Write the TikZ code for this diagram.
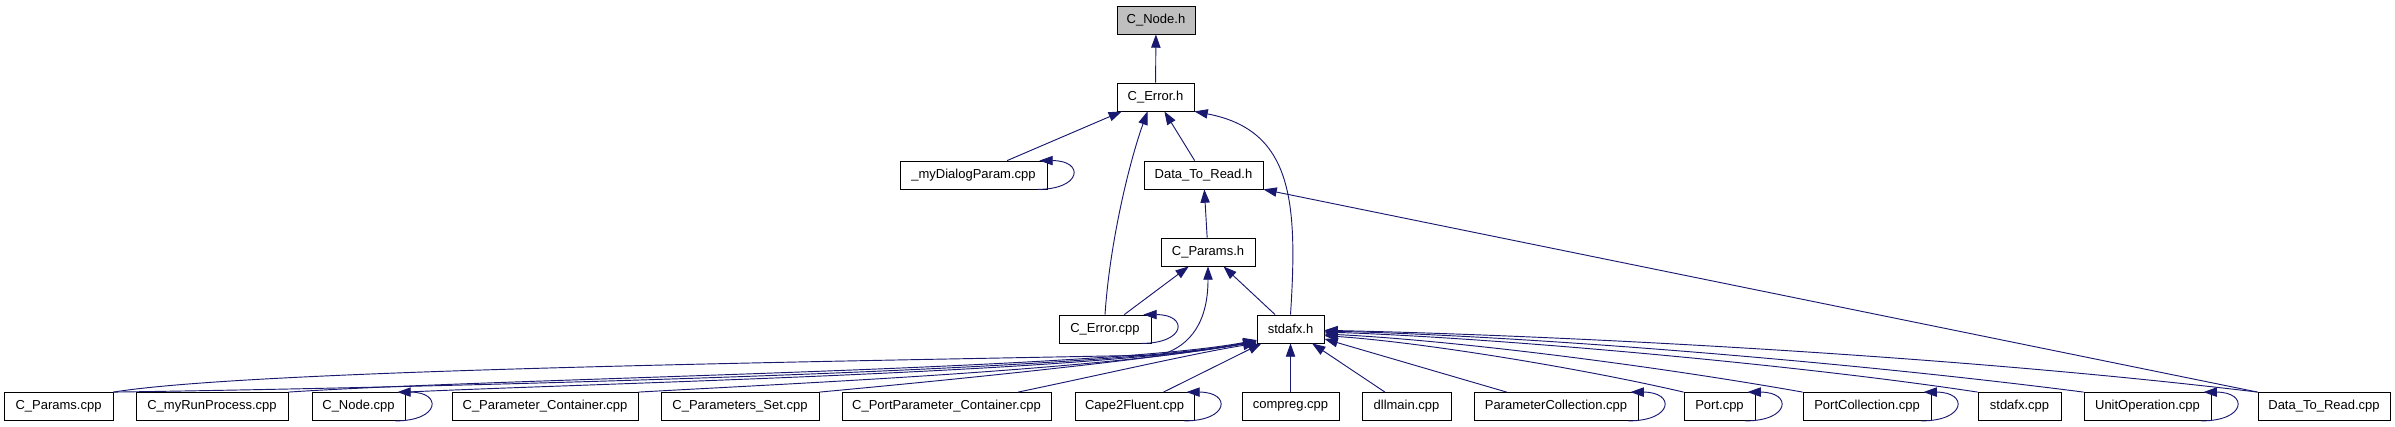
\documentclass[tikz,border=0pt]{standalone}
\usepackage{fontspec}
\setmainfont{Liberation Sans}
\usetikzlibrary{arrows.meta}
\definecolor{edgeblue}{HTML}{191970}
\definecolor{boxgray}{HTML}{BFBFBF}

\begin{document}
\begin{tikzpicture}[x=0.75pt, y=-0.75pt, font=\fontsize{9.75}{11}\selectfont,
    >={Triangle[length=10pt, width=7pt]},
    fb/.style={draw, line width=0.6pt, minimum height=21pt, inner sep=2pt, align=center},
    bw/.style={minimum width=#1*0.75pt},
    dep/.style={draw=edgeblue, line width=0.7pt, ->}
]
    \useasboundingbox (0,0) rectangle (2395,427);
    \node[fb, bw=78, fill=boxgray] (cnodeh) at (1156,20) {C\_Node.h};
    \node[fb, bw=77] (cerrorh) at (1155.5,97) {C\_Error.h};
    \node[fb, bw=147] (mydlg) at (973.5,175) {\_myDialogParam.cpp};
    \node[fb, bw=119] (dtrh) at (1203.5,175) {Data\_To\_Read.h};
    \node[fb, bw=94] (cparamsh) at (1208,252) {C\_Params.h};
    \node[fb, bw=92] (cerrcpp) at (1105,329) {C\_Error.cpp};
    \node[fb, bw=67] (stdafxh) at (1290.5,329) {stdafx.h};
    \node[fb, bw=109] (cparamscpp) at (58.5,406.5) {C\_Params.cpp};
    \node[fb, bw=152] (crun) at (212,406.5) {C\_myRunProcess.cpp};
    \node[fb, bw=93] (cnodecpp) at (358.5,406.5) {C\_Node.cpp};
    \node[fb, bw=186] (cpc) at (545,406.5) {C\_Parameter\_Container.cpp};
    \node[fb, bw=158] (cps) at (740,406.5) {C\_Parameters\_Set.cpp};
    \node[fb, bw=209] (cppc) at (946.5,406.5) {C\_PortParameter\_Container.cpp};
    \node[fb, bw=119] (cape) at (1134.5,406.5) {Cape2Fluent.cpp};
    \node[fb, bw=97] (compreg) at (1290.5,406.5) {compreg.cpp};
    \node[fb, bw=89] (dllmain) at (1406.5,406.5) {dllmain.cpp};
    \node[fb, bw=164] (paramcoll) at (1556,406.5) {ParameterCollection.cpp};
    \node[fb, bw=71] (port) at (1719.5,406.5) {Port.cpp};
    \node[fb, bw=128] (portcoll) at (1867,406.5) {PortCollection.cpp};
    \node[fb, bw=83] (stdafxcpp) at (2019.5,406.5) {stdafx.cpp};
    \node[fb, bw=127] (unitop) at (2147.5,406.5) {UnitOperation.cpp};
    \node[fb, bw=132] (dtrcpp) at (2324,406.5) {Data\_To\_Read.cpp};

    \draw[dep] (cerrorh) -- (cnodeh);
    \draw[dep] (mydlg) -- (cerrorh);
    \draw[dep] (dtrh) -- (cerrorh);
    \draw[dep] (cerrcpp.north) .. controls (1110,240) and (1130,160) .. ([xshift=-6pt]cerrorh.south);
    \draw[dep] (stdafxh.north) .. controls (1298,200) and (1292,130) .. (cerrorh.south east);
    \draw[dep] (cparamsh) -- (dtrh);
    \draw[dep] (dtrcpp.north west) -- (dtrh.south east);
    \draw[dep] (cerrcpp) -- (cparamsh);
    \draw[dep] (stdafxh) -- (cparamsh);
    \draw[dep] (cparamscpp.north east) .. controls (250,370) and (800,362) .. (1160,355) .. controls (1192,346) and (1208,320) .. (cparamsh.south);

    \draw[dep] (cparamscpp.north east) .. controls (400,388) and (1100,372) .. ([yshift=2pt]stdafxh.south west);
    \draw[dep] (crun.north east) .. controls (500,378) and (1100,370) .. ([yshift=2.5pt]stdafxh.south west);
    \draw[dep] (cnodecpp.north east) .. controls (600,383) and (1100,372) .. ([yshift=2pt]stdafxh.south west);
    \draw[dep] (cpc.north east) .. controls (800,383) and (1100,370) .. ([yshift=1.5pt]stdafxh.south west);
    \draw[dep] (cps.north east) .. controls (950,380) and (1130,362) .. ([yshift=1pt]stdafxh.south west);
    \draw[dep] ([xshift=-25pt]cppc.north east) .. controls (1100,375) and (1200,352) .. (stdafxh.south west);
    \draw[dep] (cape) -- (stdafxh);
    \draw[dep] (compreg) -- (stdafxh);
    \draw[dep] (dllmain) -- (stdafxh);
    \draw[dep] (paramcoll) -- (stdafxh);
    \draw[dep] (port.north west) .. controls (1580,368) and (1420,342) .. ([yshift=-5pt]stdafxh.east);
    \draw[dep] (portcoll.north west) .. controls (1650,365) and (1450,340) .. ([yshift=-3.75pt]stdafxh.east);
    \draw[dep] (stdafxcpp.north west) .. controls (1800,365) and (1500,338) .. ([yshift=-2.25pt]stdafxh.east);
    \draw[dep] (unitop.north west) .. controls (1850,362) and (1530,336) .. ([yshift=-1.5pt]stdafxh.east);
    \draw[dep] (dtrcpp.north west) .. controls (1950,355) and (1550,335) .. ([yshift=-1pt]stdafxh.east);

    \draw[dep] ([xshift=-7.5pt]mydlg.south east) .. controls +(45,0) and +(45,0) .. ([xshift=-6pt]mydlg.north east);
    \draw[dep] ([xshift=-7.5pt]cerrcpp.south east) .. controls +(45,0) and +(45,0) .. ([xshift=-6pt]cerrcpp.north east);
    \draw[dep] ([xshift=-7.5pt]cnodecpp.south east) .. controls +(45,0) and +(45,0) .. ([xshift=-6pt]cnodecpp.north east);
    \draw[dep] ([xshift=-7.5pt]cape.south east) .. controls +(45,0) and +(45,0) .. ([xshift=-6pt]cape.north east);
    \draw[dep] ([xshift=-7.5pt]paramcoll.south east) .. controls +(45,0) and +(45,0) .. ([xshift=-6pt]paramcoll.north east);
    \draw[dep] ([xshift=-7.5pt]port.south east) .. controls +(45,0) and +(45,0) .. ([xshift=-6pt]port.north east);
    \draw[dep] ([xshift=-7.5pt]portcoll.south east) .. controls +(45,0) and +(45,0) .. ([xshift=-6pt]portcoll.north east);
    \draw[dep] ([xshift=-7.5pt]unitop.south east) .. controls +(45,0) and +(45,0) .. ([xshift=-6pt]unitop.north east);
\end{tikzpicture}
\end{document}
